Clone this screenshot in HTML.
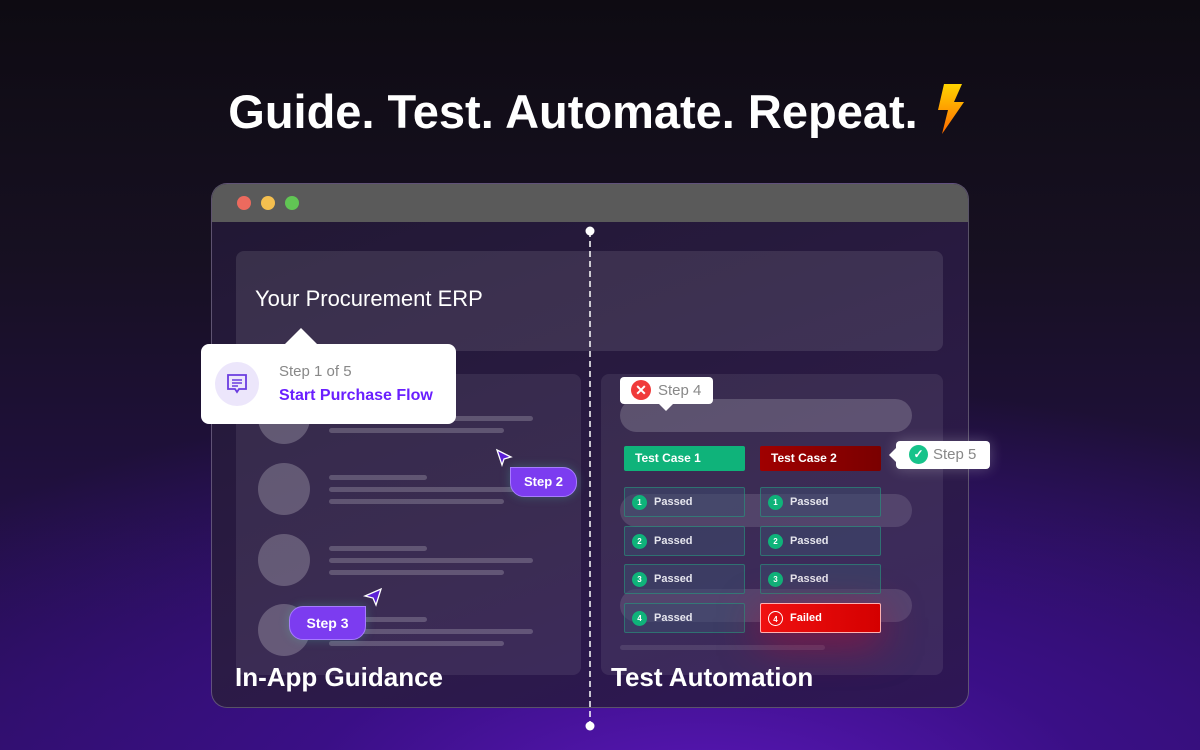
<!DOCTYPE html>
<html><head><meta charset="utf-8"><style>
*{margin:0;padding:0;box-sizing:border-box}
body{width:1200px;height:750px;overflow:hidden;position:relative;font-family:"Liberation Sans",sans-serif;
background:radial-gradient(ellipse 1000px 420px at 700px 800px,#5a17b8 0%,#3a0f86 40%,rgba(30,10,60,0) 100%),linear-gradient(180deg,#0e0b12 0%,#171022 35%,#2a0f5e 100%);}
.a{position:absolute}
.t{color:#fff;font-weight:bold}
.win{left:211px;top:183px;width:758px;height:525px;border-radius:16px;overflow:hidden;background:linear-gradient(160deg,#211833,#2b1b45 60%,#2e1656);border:1px solid rgba(255,255,255,0.25)}
.bar{left:0;top:0;width:758px;height:38px;background:#5a5a5a}
.dot{width:14px;height:14px;border-radius:50%;top:12px}
.panel{background:rgba(255,255,255,0.08);border-radius:8px}
.circ{width:52px;height:52px;border-radius:50%;background:rgba(255,255,255,0.22)}
.ln{height:5px;border-radius:3px;background:rgba(255,255,255,0.2)}
.pill{height:33px;border-radius:17px;background:rgba(255,255,255,0.18);left:620px;width:292px}
.cell{width:121px;height:30px;border:1px solid rgba(30,180,130,0.45);background:rgba(60,75,110,0.55);border-radius:2px;color:#e6e6ee;font-size:11px;font-weight:bold;line-height:28px;padding-left:29px}
.num{position:absolute;left:7px;top:7px;width:15px;height:15px;border-radius:50%;background:#0fb37a;color:#fff;font-size:8px;line-height:15px;text-align:center}
.badge{background:#7c3cf0;color:#fff;font-weight:bold;font-size:13px;text-align:center;border-radius:14px;border:1px solid #a77bff;box-shadow:0 0 10px rgba(80,200,180,0.3)}
.lbl{background:#fff;border-radius:4px;color:#888;font-size:15px}
</style></head><body>
<div class="a t" style="left:0;width:1200px;top:84px;text-align:center;font-size:47px;padding-right:54px">Guide. Test. Automate. Repeat.</div>
<svg class="a" style="left:930px;top:82px" width="40" height="54" viewBox="0 0 40 54"><defs><linearGradient id="g" x1="0" y1="0" x2="0" y2="1"><stop offset="0" stop-color="#ffd400"/><stop offset="1" stop-color="#ff6a00"/></linearGradient></defs><polygon points="14,2 32,2 24,20 34,20 12,52 18,28 8,28" fill="url(#g)"/></svg>

<div class="a win">
 <div class="a bar"></div>
 <div class="a dot" style="left:25px;background:#ec6a5e"></div>
 <div class="a dot" style="left:49px;background:#f4bf4f"></div>
 <div class="a dot" style="left:73px;background:#61c554"></div>
</div>
<div class="a panel" style="left:236px;top:251px;width:707px;height:100px;background:rgba(255,255,255,0.1)"></div>
<div class="a" style="left:255px;top:286px;color:#fff;font-size:22px">Your Procurement ERP</div>
<div class="a panel" style="left:236px;top:374px;width:345px;height:301px"></div>
<div class="a panel" style="left:601px;top:374px;width:342px;height:301px"></div>

<div class="a circ" style="left:258px;top:392px"></div>
<div class="a circ" style="left:258px;top:463px"></div>
<div class="a circ" style="left:258px;top:534px"></div>
<div class="a circ" style="left:258px;top:604px"></div>
<div class="a ln" style="left:329px;top:416px;width:204px"></div><div class="a ln" style="left:329px;top:428px;width:175px"></div>
<div class="a ln" style="left:329px;top:475px;width:98px"></div><div class="a ln" style="left:329px;top:487px;width:204px"></div><div class="a ln" style="left:329px;top:499px;width:175px"></div>
<div class="a ln" style="left:329px;top:546px;width:98px"></div><div class="a ln" style="left:329px;top:558px;width:204px"></div><div class="a ln" style="left:329px;top:570px;width:175px"></div>
<div class="a ln" style="left:329px;top:617px;width:98px"></div><div class="a ln" style="left:329px;top:629px;width:204px"></div><div class="a ln" style="left:329px;top:641px;width:175px"></div>

<svg class="a" style="left:283px;top:328px" width="36" height="18"><polygon points="0,18 18,0 36,18" fill="#fff"/></svg>
<div class="a" style="left:201px;top:344px;width:255px;height:80px;background:#fff;border-radius:8px"></div>
<div class="a" style="left:215px;top:362px;width:44px;height:44px;border-radius:50%;background:#ece6fb"></div>
<svg class="a" style="left:225px;top:372px" width="24" height="24" viewBox="0 0 24 24"><path d="M3 3h18v14h-7l-2 3-2-3H3z" fill="none" stroke="#6a3ce0" stroke-width="1.8"/><path d="M7 8h10M7 11h10M7 14h6" stroke="#6a3ce0" stroke-width="1.6"/></svg>
<div class="a" style="left:279px;top:363px;color:#888;font-size:15px">Step 1 of 5</div>
<div class="a" style="left:279px;top:387px;color:#6a1fff;font-size:16px;font-weight:bold">Start Purchase Flow</div>

<svg class="a" style="left:494px;top:447px" width="20" height="20"><polygon points="3,3 17,10 10,12 8,18" fill="#5b1fd6" stroke="#fff" stroke-width="1.3"/></svg>
<div class="a badge" style="left:510px;top:467px;width:67px;height:30px;line-height:28px;border-top-left-radius:0">Step 2</div>
<svg class="a" style="left:362px;top:586px" width="22" height="22"><polygon points="19,3 14,19 11,12 3,10" fill="#5b1fd6" stroke="#fff" stroke-width="1.3"/></svg>
<div class="a badge" style="left:289px;top:606px;width:77px;height:34px;line-height:32px;border-top-right-radius:0;font-size:14px">Step 3</div>

<div class="a pill" style="top:399px"></div>
<div class="a pill" style="top:494px;background:rgba(255,255,255,0.12)"></div>
<div class="a pill" style="top:589px;background:rgba(255,255,255,0.12)"></div>
<div class="a ln" style="left:620px;top:645px;width:205px;background:rgba(255,255,255,0.1)"></div>
<svg class="a" style="left:657px;top:402px" width="18" height="10"><polygon points="0,0 18,0 9,9" fill="#fff"/></svg>
<div class="a lbl" style="left:620px;top:377px;width:93px;height:27px"></div>
<div class="a" style="left:631px;top:380px;width:20px;height:20px;border-radius:50%;background:#f03a3a;color:#fff;font-size:14px;text-align:center;line-height:20px;font-weight:bold">✕</div>
<div class="a" style="left:658px;top:382px;color:#888;font-size:15px">Step 4</div>

<div class="a" style="left:624px;top:446px;width:121px;height:25px;background:#0fb37a;border-radius:2px;color:#fff;font-size:12px;font-weight:bold;line-height:25px;padding-left:11px">Test Case 1</div>
<div class="a" style="left:760px;top:446px;width:121px;height:25px;background:linear-gradient(90deg,#a00000,#7a0000);border-radius:2px;color:#fff;font-size:12px;font-weight:bold;line-height:25px;padding-left:11px">Test Case 2</div>
<svg class="a" style="left:887px;top:447px" width="12" height="16"><polygon points="10,0 10,16 2,8" fill="#fff"/></svg>
<div class="a lbl" style="left:896px;top:441px;width:94px;height:28px;box-shadow:0 0 14px rgba(255,255,255,0.25)"></div>
<div class="a" style="left:909px;top:445px;width:19px;height:19px;border-radius:50%;background:#17c38a;color:#fff;font-size:12px;text-align:center;line-height:19px;font-weight:bold">✓</div>
<div class="a" style="left:933px;top:446px;color:#888;font-size:15px">Step 5</div>

<div class="a cell" style="left:624px;top:487px"><span class="num">1</span>Passed</div>
<div class="a cell" style="left:760px;top:487px"><span class="num">1</span>Passed</div>
<div class="a cell" style="left:624px;top:526px"><span class="num">2</span>Passed</div>
<div class="a cell" style="left:760px;top:526px"><span class="num">2</span>Passed</div>
<div class="a cell" style="left:624px;top:564px"><span class="num">3</span>Passed</div>
<div class="a cell" style="left:760px;top:564px"><span class="num">3</span>Passed</div>
<div class="a cell" style="left:624px;top:603px"><span class="num">4</span>Passed</div>
<div class="a cell" style="left:760px;top:603px;background:linear-gradient(90deg,#f01010,#d40000);border:1px solid #ffb0b0;color:#fff;box-shadow:0 10px 40px rgba(220,0,40,0.5)"><span class="num" style="background:none;border:1px solid #fff">4</span>Failed</div>

<div class="a t" style="left:235px;top:662px;font-size:26px">In-App Guidance</div>
<div class="a t" style="left:611px;top:662px;font-size:26px">Test Automation</div>

<svg class="a" style="left:584px;top:225px" width="12" height="508"><line x1="6" y1="6" x2="6" y2="502" stroke="#fff" stroke-width="1.5" stroke-dasharray="6,4"/><circle cx="6" cy="6" r="4.5" fill="#fff"/><circle cx="6" cy="501" r="4.5" fill="#fff"/></svg>
</body></html>
